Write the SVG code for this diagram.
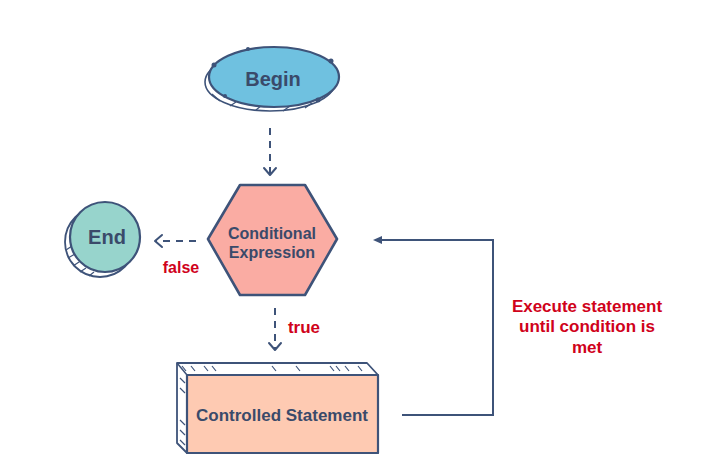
<svg xmlns="http://www.w3.org/2000/svg" width="721" height="468" viewBox="0 0 721 468">
<style>
.ol{stroke:#3e5379;stroke-width:2.2;stroke-linejoin:round}
.lbl{font-family:"Liberation Sans",Arial,sans-serif;font-weight:bold;font-size:17px;fill:#3a4a6a;text-anchor:middle}
.red{font-family:"Liberation Sans",Arial,sans-serif;font-weight:bold;font-size:17px;fill:#d0021b;text-anchor:middle}
.dash{fill:none;stroke:#3e5379;stroke-width:2;stroke-dasharray:7 6}
.head{fill:none;stroke:#3e5379;stroke-width:2;stroke-linecap:round;stroke-linejoin:round}
.hatch{stroke:#3e5379;stroke-width:1.2}
</style>
<rect width="721" height="468" fill="#ffffff"/>
<g id="begin">
<ellipse cx="270" cy="82" rx="65" ry="29" fill="#ffffff" class="ol" style="stroke-width:1.6"/>
<path d="M212 94 L220 101 M230 106 L236 102 M256 110 L262 105 M283 111 L290 106 M305 108 L312 103" class="hatch"/>
<ellipse cx="274" cy="77" rx="65" ry="30" fill="#6fc1e0" class="ol"/>
<circle cx="214" cy="65" r="2.5" fill="#3e5379"/>
<circle cx="331" cy="61" r="2.5" fill="#3e5379"/>
<circle cx="318" cy="100" r="2.5" fill="#3e5379"/>
<circle cx="248" cy="49" r="2" fill="#3e5379"/>
<circle cx="225" cy="96" r="2" fill="#3e5379"/>
<text x="273" y="86" class="lbl" style="font-size:20px">Begin</text>
</g>
<g id="conditional">
<polygon points="240,185 305,185 337,239 305,295 240,295 208,239" fill="#faaca3" class="ol" style="stroke-width:2.6"/>
<text x="272" y="239" class="lbl" style="font-size:16px">Conditional</text>
<text x="272" y="258" class="lbl" style="font-size:16px">Expression</text>
</g>
<g id="end">
<circle cx="100" cy="242" r="35" fill="#ffffff" class="ol" style="stroke-width:1.8"/>
<path d="M66 250 L72 246 M68 258 L75 254 M73 266 L79 262 M80 272 L86 268 M89 276 L94 272" class="hatch"/>
<circle cx="105" cy="237" r="35" fill="#97d4cc" class="ol"/>
<text x="107" y="244" class="lbl" style="font-size:20px">End</text>
</g>
<g id="controlled">
<polygon points="177,363 367,363 378,375 378,453 187,453 177,443" fill="#ffffff" class="ol" style="stroke-width:1.8"/>
<path d="M177 363 L187 375" class="ol" fill="none" style="stroke-width:1.5"/>
<path d="M182 366 L186 371 M191 366 L195 371 M204 366 L208 371 M212 366 L216 371 M272 366 L276 371 M296 366 L300 371 M330 366 L334 371 M336 366 L340 371 M345 366 L349 371 M358 366 L362 371 M180 378 L185 383 M180 388 L185 393 M180 420 L185 425 M180 430 L185 435 M180 440 L185 445" class="hatch"/>
<rect x="187" y="375" width="191" height="78" fill="#fecab2" class="ol"/>
<text x="282" y="421" class="lbl">Controlled Statement</text>
</g>
<g id="connectors">
<path d="M270 128 L270 174" class="dash"/>
<path d="M264 168 L270 175 L276 168" class="head"/>
<path d="M196 241 L156 241" class="dash"/>
<path d="M162 235 L155 241 L162 247" class="head"/>
<path d="M275 308 L275 349" class="dash"/>
<path d="M269 343 L275 350 L281 343" class="head"/>
<path d="M402 415 L493 415 L493 240 L380 240" fill="none" stroke="#3e5379" stroke-width="2"/>
<polygon points="373,240 382,236 382,244" fill="#3e5379"/>
</g>
<g id="labels">
<text x="181" y="273" class="red" style="font-size:16px">false</text>
<text x="304" y="333" class="red">true</text>
<text x="587" y="312" class="red">Execute statement</text>
<text x="587" y="332" class="red">until condition is</text>
<text x="587" y="353" class="red">met</text>
</g>
</svg>
